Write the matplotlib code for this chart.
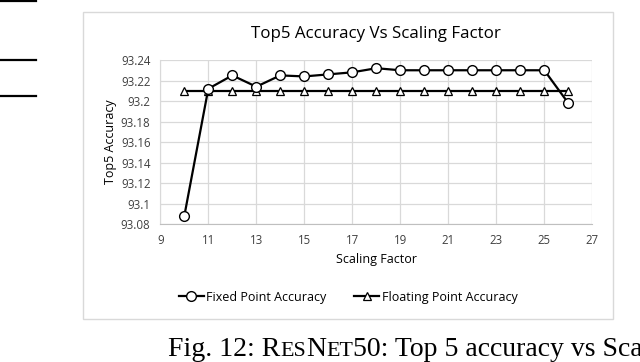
import matplotlib
matplotlib.use("Agg")
import matplotlib.pyplot as plt
from matplotlib.patches import Rectangle
from matplotlib.lines import Line2D
from matplotlib.ticker import FuncFormatter

plt.rcParams["font.family"] = ["Open Sans", "DejaVu Sans"]

scaling = [10, 11, 12, 13, 14, 15, 16, 17, 18, 19, 20, 21, 22, 23, 24, 25, 26]
fixed_acc = [93.088, 93.212, 93.225, 93.214, 93.225, 93.224, 93.226, 93.228, 93.232,
             93.23, 93.23, 93.23, 93.23, 93.23, 93.23, 93.23, 93.198]
float_acc = [93.21] * len(scaling)
x_ticks = [9, 11, 13, 15, 17, 19, 21, 23, 25, 27]
y_ticks = [93.08, 93.1, 93.12, 93.14, 93.16, 93.18, 93.2, 93.22, 93.24]

W, H = 640, 362
fig = plt.figure(figsize=(W / 100, H / 100), dpi=100)

# chart frame (excel style border)
fig.patches.append(Rectangle((83 / W, 1 - 319 / H), 530 / W, 307 / H,
                             transform=fig.transFigure, fill=False,
                             edgecolor="#d9d9d9", linewidth=1))

# stray black rules at top-left from the page
for yy in [1, 60, 96]:
    fig.add_artist(Line2D([0, 36 / W], [1 - yy / H, 1 - yy / H],
                          transform=fig.transFigure, color="black", linewidth=1.6))

ax = fig.add_axes([160.3 / W, 1 - 224.3 / H, 432 / W, 164.3 / H])
ax.plot(scaling, float_acc, color="black", linewidth=1.6, marker="^", markersize=5.5,
        markerfacecolor="white", markeredgecolor="black", markeredgewidth=0.9,
        label="Floating Point Accuracy", zorder=3)
ax.plot(scaling, fixed_acc, color="black", linewidth=1.6, marker="o", markersize=7,
        markerfacecolor="white", markeredgecolor="black", markeredgewidth=1,
        label="Fixed Point Accuracy", zorder=4)

ax.set_xlim(9, 27)
ax.set_ylim(93.08, 93.24)
ax.set_xticks(x_ticks)
ax.set_yticks(y_ticks)
ax.yaxis.set_major_formatter(FuncFormatter(lambda v, p: f"{v:.2f}".rstrip("0")))
ax.grid(True, color="#d9d9d9", linewidth=0.9)
ax.set_axisbelow(True)
for s in ["top", "right"]:
    ax.spines[s].set_visible(False)
ax.spines["left"].set_color("#d9d9d9")
ax.spines["bottom"].set_color("#bfbfbf")
ax.tick_params(length=0, labelsize=8.3, colors="#404040", pad=7)

ax.set_title("Top5 Accuracy Vs Scaling Factor", fontsize=12.2, color="#000000", pad=16)
ax.set_xlabel("Scaling Factor", fontsize=9, labelpad=4)
ax.set_ylabel("Top5 Accuracy", fontsize=9, labelpad=3)

h, l = ax.get_legend_handles_labels()
fig.legend([h[1], h[0]], [l[1], l[0]], loc="center", bbox_to_anchor=(348 / W, 1 - 297 / H),
           ncol=2, frameon=False, fontsize=9, handlelength=2.0, columnspacing=2.2,
           handletextpad=0.2)

# caption with small caps (cut at the right edge, as in the source page)
fig.canvas.draw()
renderer = fig.canvas.get_renderer()
pieces = [("Fig. 12: R", 20), ("ES", 15.8), ("N", 20), ("ET", 15.8),
          ("50: Top 5 accuracy vs Scaling Factor", 20)]
xpos = 168
for txt, sz in pieces:
    t = fig.text(xpos / W, 1 - 355.5 / H, txt, fontsize=sz, va="baseline", ha="left",
                 family=["Liberation Serif", "DejaVu Serif"])
    bb = t.get_window_extent(renderer)
    xpos = bb.x1

fig.savefig("out.png", dpi=100)
